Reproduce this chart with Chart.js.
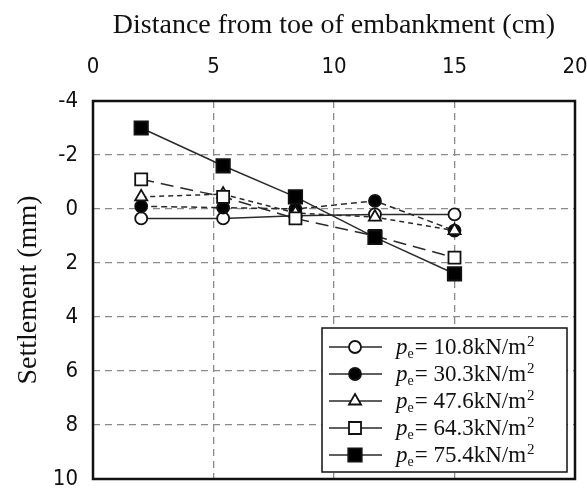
<!DOCTYPE html>
<html>
<head>
<meta charset="utf-8">
<script src="https://cdn.jsdelivr.net/npm/chart.js@4"></script>
<style>
  html, body { margin: 0; padding: 0; background: #fff; }
  #wrap { width: 587px; height: 491px; }
</style>
</head>
<body>
<div id="wrap"><canvas id="settlement-chart" width="587" height="491"></canvas></div>
<script>
// Distance from toe (cm) and settlement (mm) per embankment pressure
const distance = [2, 5.4, 8.4, 11.7, 15];
const pe108 = [0.35, 0.35, 0.25, 0.2, 0.2];
const pe303 = [-0.1, -0.05, 0.0, -0.3, 0.8];
const pe476 = [-0.45, -0.55, 0.15, 0.3, 0.8];
const pe643 = [-1.1, -0.45, 0.35, 1.0, 1.8];
const pe754 = [-3.0, -1.6, -0.45, 1.05, 2.4];
const peLabels = ['10.8', '30.3', '47.6', '64.3', '75.4'];
const xTicks = [0, 5, 10, 15, 20];
const yTicks = [-4, -2, 0, 2, 4, 6, 8, 10];

const LINE = '#2a2a2a';
const serif = '"Liberation Serif", "Times New Roman", serif';
const tickFont = '"DejaVu Sans Condensed", "Liberation Sans Narrow", "Liberation Sans", sans-serif';

// marker look per series
const styles = [
    { pointStyle: 'circle', radius: 6, fill: '#fff', dash: [] },
    { pointStyle: 'circle', radius: 6, fill: '#000', dash: [6, 4] },
    { pointStyle: 'triangle', radius: 7, fill: '#fff', dash: [5, 4] },
    { pointStyle: 'rect', radius: 8.5, fill: '#fff', dash: [13, 7] },
    { pointStyle: 'rect', radius: 9.5, fill: '#000', dash: [] }
];

const series = [pe108, pe303, pe476, pe643, pe754];

const datasets = series.map((vals, i) => ({
    label: 'pe = ' + peLabels[i] + 'kN/m2',
    data: vals.map((v, j) => ({ x: distance[j], y: v })),
    borderColor: LINE,
    borderWidth: 1.5,
    borderDash: styles[i].dash,
    pointStyle: styles[i].pointStyle,
    pointRadius: styles[i].radius,
    pointBackgroundColor: styles[i].fill,
    pointBorderColor: '#111',
    pointBorderWidth: 1.8,
    fill: false,
    tension: 0,
    order: 4 - i // heavier load drawn on top
}));

// no extra room for edge labels, the plot box is fixed
const noEdgePadding = s => {
    s.paddingLeft = 0;
    s.paddingRight = 0;
    s.paddingTop = 0;
    s.paddingBottom = 0;
};

// frame round the plot area
const framePlugin = {
    id: 'frame',
    afterDatasetsDraw(chart) {
        const { ctx, chartArea: a } = chart;
        ctx.save();
        ctx.strokeStyle = '#111';
        ctx.lineWidth = 2.5;
        ctx.strokeRect(a.left, a.top, a.right - a.left, a.bottom - a.top);
        ctx.restore();
    }
};

// legend with italic p, subscript e and superscript 2
const legendPlugin = {
    id: 'peLegend',
    afterDraw(chart) {
        const ctx = chart.ctx;
        const box = { x: 322, y: 328, w: 245, h: 144 };
        ctx.save();
        ctx.fillStyle = '#fff';
        ctx.fillRect(box.x, box.y, box.w, box.h);
        ctx.strokeStyle = '#111';
        ctx.lineWidth = 1.5;
        ctx.strokeRect(box.x, box.y, box.w, box.h);
        peLabels.forEach((lab, i) => {
            const y = box.y + 19 + i * 27;
            ctx.setLineDash([]);
            ctx.strokeStyle = LINE;
            ctx.lineWidth = 1.5;
            ctx.beginPath();
            ctx.moveTo(329, y);
            ctx.lineTo(382, y);
            ctx.stroke();
            const st = styles[i];
            ctx.fillStyle = st.fill;
            ctx.strokeStyle = '#111';
            ctx.lineWidth = 1.8;
            Chart.helpers.drawPoint(ctx, {
                pointStyle: st.pointStyle, radius: st.radius, rotation: 0, borderWidth: 1.8
            }, 355, y);

            ctx.fillStyle = '#111';
            ctx.textBaseline = 'alphabetic';
            ctx.textAlign = 'left';
            const base = y + 7;
            let x = 396;
            ctx.font = 'italic 23px ' + serif;
            ctx.fillText('p', x, base);
            x += ctx.measureText('p').width;
            ctx.font = '14px ' + serif;
            ctx.fillText('e', x, base + 4);
            x += ctx.measureText('e').width + 1;
            ctx.font = '23px ' + serif;
            const main = '= ' + lab + 'kN/m';
            ctx.fillText(main, x, base);
            x += ctx.measureText(main).width + 1;
            ctx.font = '15px ' + serif;
            ctx.fillText('2', x, base - 8);
        });
        ctx.restore();
    }
};

new Chart(document.getElementById('settlement-chart'), {
    type: 'line',
    data: { datasets },
    options: {
        responsive: false,
        animation: false,
        events: [],
        layout: { padding: { left: 0, top: 0, right: 12, bottom: 12 } },
        plugins: {
            legend: { display: false },
            tooltip: { enabled: false }
        },
        scales: {
            x: {
                type: 'linear',
                position: 'top',
                min: 0,
                max: 20,
                afterFit: s => { s.height = 101; noEdgePadding(s); },
                afterBuildTicks: s => { s.ticks = xTicks.map(v => ({ value: v })); },
                grid: { color: '#8a8a8a', lineWidth: 1.3, drawTicks: false },
                border: { display: false, dash: [7, 5] },
                ticks: { color: '#111', padding: 21, font: { family: tickFont, size: 22 } },
                title: {
                    display: true,
                    text: 'Distance from toe of embankment (cm)',
                    color: '#111',
                    padding: { top: 9 },
                    font: { family: serif, size: 28 }
                }
            },
            y: {
                type: 'linear',
                reverse: true,
                min: -4,
                max: 10,
                afterFit: s => { s.width = 93; noEdgePadding(s); },
                afterBuildTicks: s => { s.ticks = yTicks.map(v => ({ value: v })); },
                grid: { color: '#8a8a8a', lineWidth: 1.3, drawTicks: false },
                border: { display: false, dash: [7, 5] },
                ticks: { color: '#111', padding: 15, font: { family: tickFont, size: 22 } },
                title: {
                    display: true,
                    text: 'Settlement (mm)',
                    color: '#111',
                    padding: { top: 12 },
                    font: { family: serif, size: 28 }
                }
            }
        }
    },
    plugins: [framePlugin, legendPlugin]
});
</script>
</body>
</html>
